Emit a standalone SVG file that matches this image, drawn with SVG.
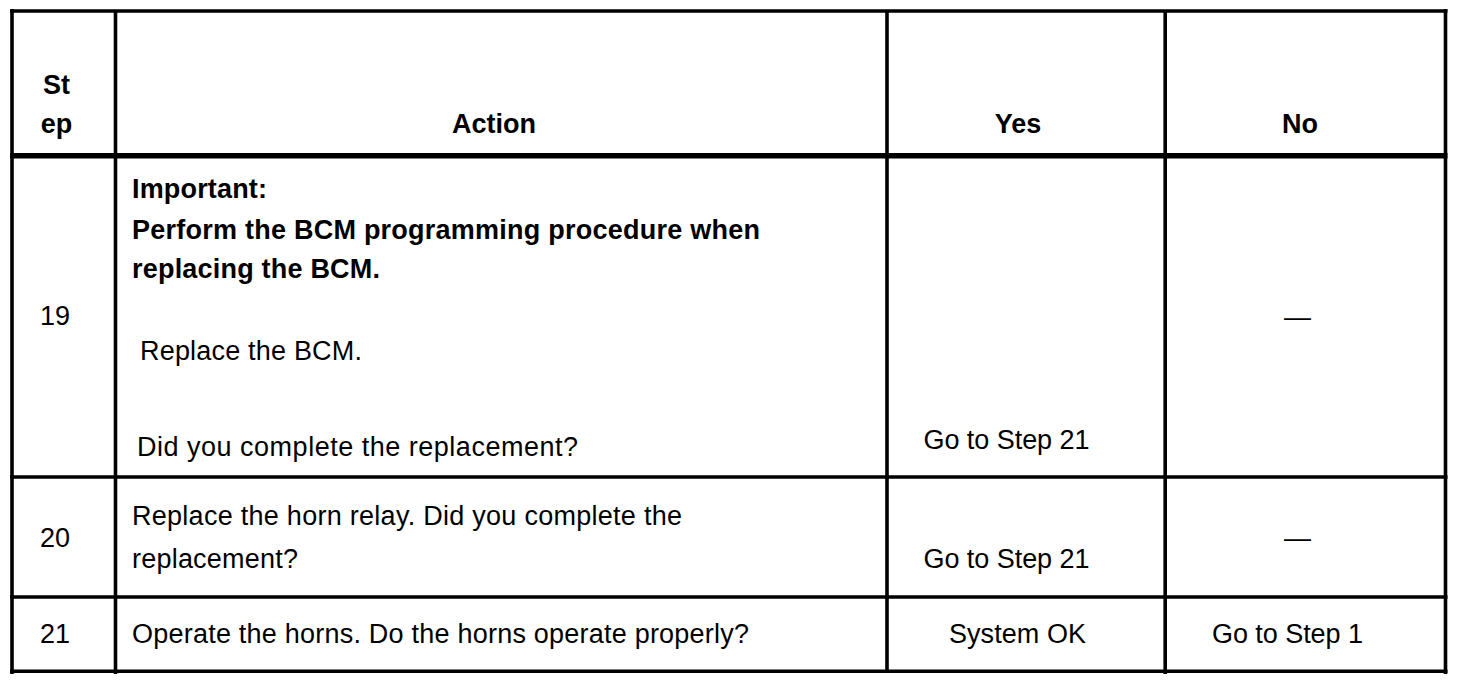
<svg xmlns="http://www.w3.org/2000/svg" width="1472" height="688" viewBox="0 0 1472 688">
<style>
.t{font-family:"Liberation Sans",Arial,sans-serif;font-size:27px;fill:#000}
.b{font-weight:bold}
.m{text-anchor:middle}
.ln{stroke:#000;stroke-width:3.6;fill:none}
.hd{stroke:#000;stroke-width:5.5;fill:none}
</style>
<rect x="0" y="0" width="1472" height="688" fill="#fff"/>
<g id="grid">
<line class="ln" x1="10" y1="11" x2="1447.5" y2="11"/>
<line class="ln" x1="12" y1="9" x2="12" y2="674"/>
<line class="ln" x1="115.5" y1="11" x2="115.5" y2="674"/>
<line class="ln" x1="887" y1="11" x2="887" y2="671"/>
<line class="ln" x1="1165.2" y1="11" x2="1165.2" y2="674"/>
<line class="ln" x1="1445.5" y1="9" x2="1445.5" y2="674"/>
<line class="hd" x1="10" y1="155.8" x2="1447.5" y2="155.8"/>
<line class="ln" x1="10" y1="477" x2="1447.5" y2="477"/>
<line class="ln" x1="10" y1="597" x2="1447.5" y2="597"/>
<line class="ln" x1="10" y1="671.3" x2="1447.5" y2="671.3"/>
</g>
<g id="header">
<text class="t b m" x="56.5" y="94">St</text>
<text class="t b m" x="56.5" y="133">ep</text>
<text class="t b m" x="494" y="133">Action</text>
<text class="t b m" x="1018" y="133">Yes</text>
<text class="t b m" x="1300" y="133">No</text>
</g>
<g id="step19">
<text class="t m" x="55" y="325">19</text>
<text class="t b" x="132" y="197.5" textLength="135" lengthAdjust="spacing">Important:</text>
<text class="t b" x="132" y="238.5" textLength="628" lengthAdjust="spacing">Perform the BCM programming procedure when</text>
<text class="t b" x="132" y="277.5" textLength="248" lengthAdjust="spacing">replacing the BCM.</text>
<text class="t" x="140" y="360" textLength="222" lengthAdjust="spacing">Replace the BCM.</text>
<text class="t" x="137" y="456" textLength="441" lengthAdjust="spacing">Did you complete the replacement?</text>
<text class="t" x="923.5" y="449" textLength="166" lengthAdjust="spacing">Go to Step 21</text>
<text class="t m" x="1297.5" y="325.5">—</text>
</g>
<g id="step20">
<text class="t m" x="55" y="547">20</text>
<text class="t" x="132" y="525" textLength="550" lengthAdjust="spacing">Replace the horn relay. Did you complete the</text>
<text class="t" x="132" y="568" textLength="166" lengthAdjust="spacing">replacement?</text>
<text class="t" x="923.5" y="568" textLength="166" lengthAdjust="spacing">Go to Step 21</text>
<text class="t m" x="1297.5" y="546.5">—</text>
</g>
<g id="step21">
<text class="t m" x="55" y="643">21</text>
<text class="t" x="132" y="643" textLength="617" lengthAdjust="spacing">Operate the horns. Do the horns operate properly?</text>
<text class="t" x="949" y="643" textLength="137" lengthAdjust="spacing">System OK</text>
<text class="t" x="1212" y="643" textLength="151" lengthAdjust="spacing">Go to Step 1</text>
</g>
</svg>
